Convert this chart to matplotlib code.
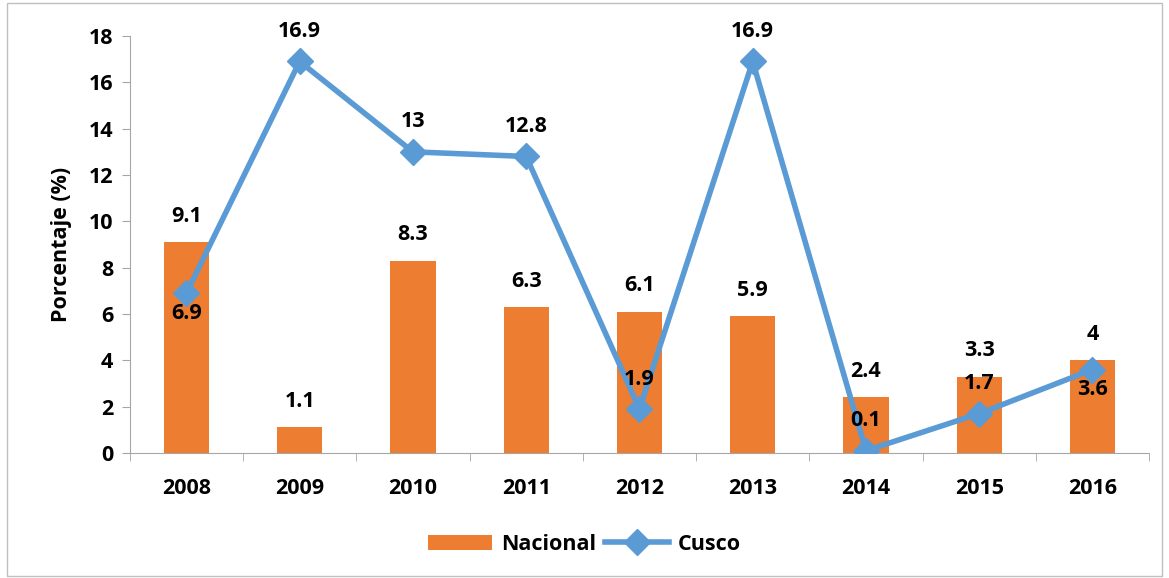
import numpy as np
import matplotlib.pyplot as plt
from matplotlib.patches import Rectangle

plt.rcParams['font.family'] = ['Open Sans', 'DejaVu Sans']
plt.rcParams['font.weight'] = 'bold'

# data
anios = ['2008', '2009', '2010', '2011', '2012', '2013', '2014', '2015', '2016']
nacional = [9.1, 1.1, 8.3, 6.3, 6.1, 5.9, 2.4, 3.3, 4]
cusco = [6.9, 16.9, 13, 12.8, 1.9, 16.9, 0.1, 1.7, 3.6]
# where the cusco label goes (True = below the point)
cusco_abajo = [True, False, False, False, False, False, False, False, True]

naranja = '#ED7D31'
azul = '#5B9BD5'
fs = 15.5

fig = plt.figure(figsize=(11.69, 5.78), dpi=100)
ax = fig.add_axes([0.111, 0.2163, 0.872, 0.7214])
x = np.arange(len(anios))

barras = ax.bar(x, nacional, width=0.4, color=naranja, label='Nacional', zorder=2)
linea, = ax.plot(x, cusco, color=azul, lw=4, marker='D', ms=13, label='Cusco', zorder=3)

for i in range(len(x)):
    ax.annotate(f'{nacional[i]:g}', (x[i], nacional[i]), xytext=(0, 11),
                textcoords='offset points', ha='center', va='bottom', fontsize=fs, fontweight='bold')
    if cusco_abajo[i]:
        ax.annotate(f'{cusco[i]:g}', (x[i], cusco[i]), xytext=(0, -7),
                    textcoords='offset points', ha='center', va='top', fontsize=fs, fontweight='bold')
    else:
        ax.annotate(f'{cusco[i]:g}', (x[i], cusco[i]), xytext=(0, 14),
                    textcoords='offset points', ha='center', va='bottom', fontsize=fs, fontweight='bold')

ax.set_xlim(-0.5, len(anios) - 0.5)
ax.set_ylim(0, 18)
ax.set_yticks(range(0, 19, 2))
ax.set_xticks(x)
ax.set_xticklabels(anios)
ax.set_xticks(np.arange(-0.5, len(anios)), minor=True)
ax.tick_params(axis='x', which='major', length=0, pad=18, labelsize=fs)
ax.tick_params(axis='x', which='minor', length=6, color='#A6A6A6')
ax.tick_params(axis='y', length=6, color='#A6A6A6', labelsize=fs, pad=6)
for lab in ax.get_xticklabels() + ax.get_yticklabels():
    lab.set_fontweight('bold')
ax.set_ylabel('Porcentaje (%)', fontsize=fs, fontweight='bold', labelpad=12)
ax.spines['top'].set_visible(False)
ax.spines['right'].set_visible(False)
ax.spines['left'].set_color('#A6A6A6')
ax.spines['bottom'].set_color('#A6A6A6')

ax.legend([barras, linea], ['Nacional', 'Cusco'], loc='center', bbox_to_anchor=(0.5, 0.058),
          bbox_transform=fig.transFigure, ncol=2, frameon=False, handlelength=3,
          handletextpad=0.4, columnspacing=0.4, prop={'weight': 'bold', 'size': fs})

fig.patches.append(Rectangle((0.006, 0.004), 0.988, 0.99, transform=fig.transFigure,
                             fill=False, edgecolor='#BFBFBF', lw=1))

plt.savefig('out.png', dpi=100)
